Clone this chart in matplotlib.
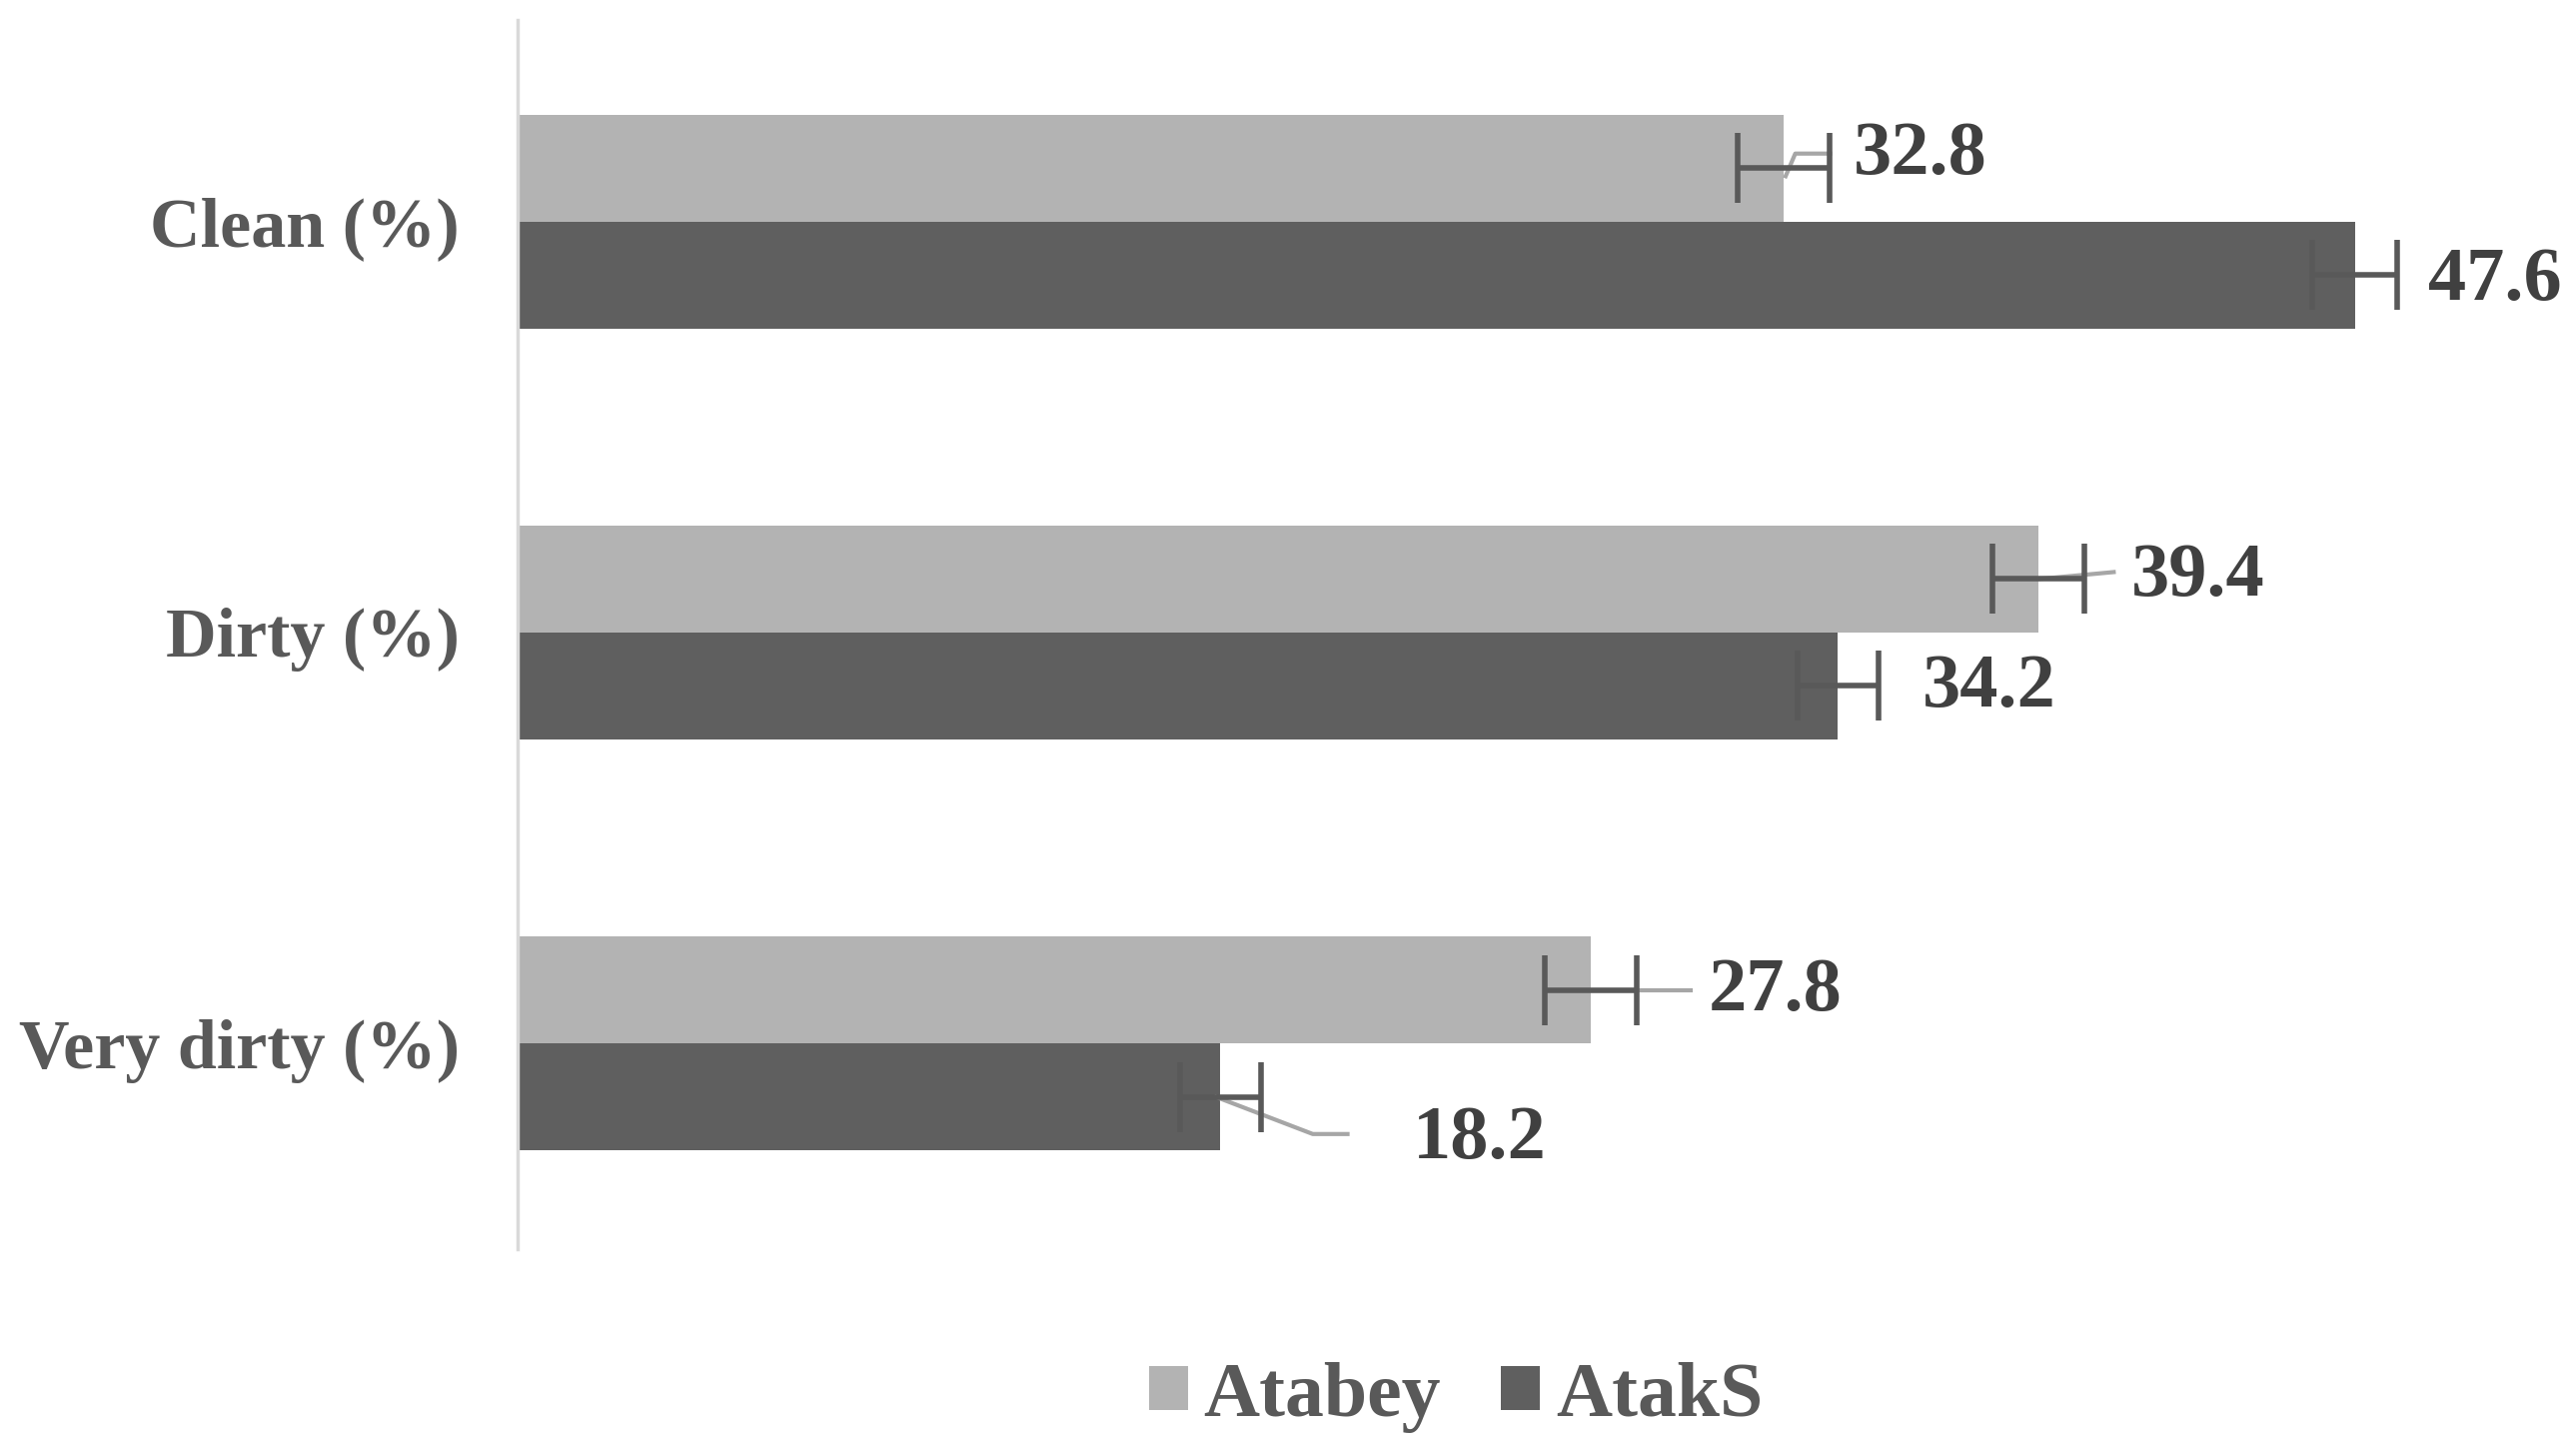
import numpy as np
import matplotlib
matplotlib.use('Agg')
import matplotlib.pyplot as plt

# categories and values
categories = ['Clean (%)', 'Dirty (%)', 'Very dirty (%)']
atabey = [32.8, 39.4, 27.8]
ataks = [47.6, 34.2, 18.2]
atabey_err = [1.2, 1.2, 1.2]
ataks_err = [1.1, 1.05, 1.05]

light = '#B3B3B3'
dark = '#5F5F5F'

plt.rcParams['font.family'] = ['Liberation Serif', 'DejaVu Serif']
plt.rcParams['font.weight'] = 'bold'

fig = plt.figure(figsize=(25.78, 14.46), dpi=100)
ax = fig.add_axes([518 / 2578, 1 - 1250 / 1446, (2501 - 518) / 2578, 1230 / 1446])

y = np.arange(len(categories))[::-1]  # Clean on top
h = 0.26

ax.barh(y + h / 2, atabey, height=h, color=light, label='Atabey')
ax.barh(y - h / 2, ataks, height=h, color=dark, label='AtakS')

ax.errorbar(atabey, y + h / 2, xerr=atabey_err, fmt='none', ecolor='#595959',
            elinewidth=4, capsize=25, capthick=4, zorder=3)
ax.errorbar(ataks, y - h / 2, xerr=ataks_err, fmt='none', ecolor='#595959',
            elinewidth=4, capsize=25, capthick=4, zorder=3)

# data labels (offsets from bar end)
a_dx = [1.8, 2.4, 3.05]
a_dy = [0.03, 0.005, -0.005]
k_dx = [1.9, 2.2, 5.0]
k_dy = [-0.015, -0.006, -0.105]
lead_col = '#A6A6A6'

for i in range(3):
    yy = y[i] + h / 2
    ax.text(atabey[i] + a_dx[i], yy + a_dy[i], f'{atabey[i]:.1f}', ha='left', va='center',
            fontsize=55, fontweight='bold', color='#404040')
    yy2 = y[i] - h / 2
    ax.text(ataks[i] + k_dx[i], yy2 + k_dy[i], f'{ataks[i]:.1f}', ha='left', va='center',
            fontsize=55, fontweight='bold', color='#404040')

# leader lines
ax.plot([atabey[0] + 0.05, atabey[0] + 0.3, atabey[0] + 1.2],
        [y[0] + h / 2 - 0.02, y[0] + h / 2 + 0.035, y[0] + h / 2 + 0.035],
        color=lead_col, lw=3, zorder=1.5)
ax.plot([atabey[1], atabey[1] + 1.95], [y[1] + h / 2, y[1] + h / 2 + 0.017],
        color=lead_col, lw=3, zorder=1.5)
ax.plot([atabey[2], atabey[2] + 2.6], [y[2] + h / 2, y[2] + h / 2],
        color=lead_col, lw=3, zorder=1.5)
ax.plot([ataks[2] - 0.1, ataks[2] + 2.4, ataks[2] + 3.3],
        [y[2] - h / 2, y[2] - h / 2 - 0.09, y[2] - h / 2 - 0.09],
        color=lead_col, lw=3, zorder=1.5)

ax.set_xlim(0, (2501 - 518) / 38.63)
ax.set_ylim(-0.5, 2.49)
ax.set_yticks(y)
ax.set_yticklabels(categories, fontsize=50.5, fontweight='bold', color='#595959')
ax.tick_params(axis='y', length=0, pad=42)
ax.set_xticks([])
for s in ['top', 'right', 'bottom']:
    ax.spines[s].set_visible(False)
ax.spines['left'].set_color('#D9D9D9')
ax.spines['left'].set_linewidth(2.5)

leg = fig.legend(loc='center', bbox_to_anchor=(1457 / 2578, 1 - 1398 / 1446), ncol=2,
                 frameon=False, handlelength=0.5, handleheight=0.5,
                 handletextpad=0.2, columnspacing=0.78,
                 prop={'family': 'Liberation Serif', 'weight': 'bold', 'size': 56})
for t in leg.get_texts():
    t.set_color('#595959')

fig.savefig('out.png', dpi=100, facecolor='white')
